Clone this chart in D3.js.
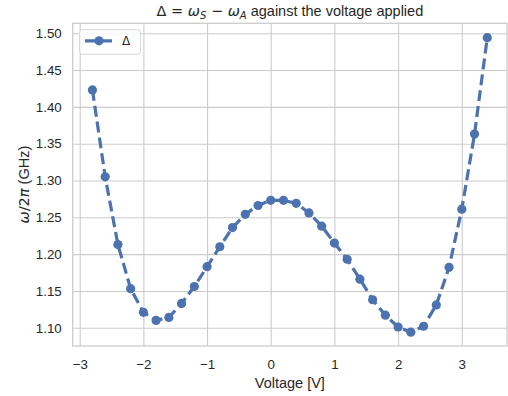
<!DOCTYPE html>
<html><head><meta charset="utf-8">
<script src="https://cdn.jsdelivr.net/npm/d3@7"></script>
<style>body{margin:0;background:#fff}svg{display:block}</style>
</head><body>
<svg id="c" width="508" height="396"></svg>
<script>
const voltage = [-2.8,-2.6,-2.4,-2.2,-2.0,-1.8,-1.6,-1.4,-1.2,-1.0,-0.8,-0.6,-0.4,-0.2,0.0,0.2,0.4,0.6,0.8,1.0,1.2,1.4,1.6,1.8,2.0,2.2,2.4,2.6,2.8,3.0,3.2,3.4];
const delta = [1.423,1.305,1.213,1.153,1.121,1.110,1.114,1.133,1.156,1.183,1.210,1.236,1.254,1.266,1.273,1.273,1.269,1.256,1.238,1.215,1.193,1.166,1.138,1.117,1.101,1.094,1.102,1.131,1.182,1.261,1.363,1.494];
const xTicks = [-3,-2,-1,0,1,2,3];
const yTicks = [1.10,1.15,1.20,1.25,1.30,1.35,1.40,1.45,1.50];

const svg = d3.select("#c");
const L=72.7, R=507, T=23.3, B=346;
const font = "'Liberation Sans', Arial, sans-serif";
const x = d3.scaleLinear().domain([-3.11,3.71]).range([L,R]);
const y = d3.scaleLinear().domain([1.0752,1.5135]).range([B,T]);
const grid = "#cccccc", txt = "#262626", col = "#4c72b0";

// grid
const xAxis = d3.axisBottom(x).tickValues(xTicks).tickSize(-(B-T)).tickPadding(14)
  .tickFormat(d => d < 0 ? "\u2212" + Math.abs(d) : d);
const gx = svg.append("g").attr("transform",`translate(0,${B})`).call(xAxis);
const yAxis = d3.axisLeft(y).tickValues(yTicks).tickSize(-(R-L)).tickPadding(11)
  .tickFormat(d3.format(".2f"));
const gy = svg.append("g").attr("transform",`translate(${L},0)`).call(yAxis);
[gx,gy].forEach(g=>{
  g.select(".domain").remove();
  g.selectAll(".tick line").attr("stroke",grid).attr("stroke-width",1.1);
  g.selectAll(".tick text").attr("fill",txt).attr("font-family",font).attr("font-size",13.3);
});
svg.append("rect").attr("x",L).attr("y",T).attr("width",R-L).attr("height",B-T)
  .attr("fill","none").attr("stroke",grid).attr("stroke-width",1.3);

// line
const line = d3.line().x((d,i)=>x(voltage[i])).y(d=>y(d));
svg.append("path").datum(delta).attr("d",line).attr("fill","none")
  .attr("stroke",col).attr("stroke-width",3.2).attr("stroke-dasharray","11,5");
svg.selectAll("circle.pt").data(delta).join("circle").attr("class","pt")
  .attr("cx",(d,i)=>x(voltage[i])).attr("cy",d=>y(d)).attr("r",4.6).attr("fill",col);

// title
const title = svg.append("text").attr("x",(L+R)/2).attr("y",16).attr("text-anchor","middle")
  .attr("fill",txt).attr("font-family",font).attr("font-size",14.5);
title.append("tspan").attr("font-family","'DejaVu Sans'").text("\u0394 = ");
title.append("tspan").attr("font-family","'DejaVu Sans'").attr("font-style","italic").text("\u03c9");
title.append("tspan").attr("font-family","'DejaVu Sans'").attr("font-style","italic").attr("font-size",10).attr("dy",2.8).text("S");
title.append("tspan").attr("font-family","'DejaVu Sans'").attr("dy",-2.8).text(" \u2212 ");
title.append("tspan").attr("font-family","'DejaVu Sans'").attr("font-style","italic").text("\u03c9");
title.append("tspan").attr("font-family","'DejaVu Sans'").attr("font-style","italic").attr("font-size",10).attr("dy",2.8).text("A");
title.append("tspan").attr("dy",-2.8).text(" against the voltage applied");

// axis labels
svg.append("text").attr("x",(L+R)/2).attr("y",388).attr("text-anchor","middle")
  .attr("fill",txt).attr("font-family",font).attr("font-size",14.5).text("Voltage [V]");
const yl = svg.append("text").attr("transform",`translate(29,${(T+B)/2}) rotate(-90)`)
  .attr("text-anchor","middle").attr("fill",txt).attr("font-family",font).attr("font-size",14.5);
yl.append("tspan").attr("font-family","'DejaVu Sans'").attr("font-style","italic").text("\u03c9");
yl.append("tspan").attr("font-family","'DejaVu Sans'").text("/2");
yl.append("tspan").attr("font-family","'DejaVu Sans'").attr("font-style","italic").text("\u03c0");
yl.append("tspan").text(" (GHz)");

// legend
const lg = svg.append("g");
lg.append("rect").attr("x",79.5).attr("y",29.7).attr("width",61).attr("height",24.6).attr("rx",3)
  .attr("fill","#fff").attr("fill-opacity",0.8).attr("stroke","#d8d8d8").attr("stroke-width",1);
lg.append("line").attr("x1",85).attr("x2",112).attr("y1",40.8).attr("y2",40.8)
  .attr("stroke",col).attr("stroke-width",3.2).attr("stroke-dasharray","11,5");
lg.append("circle").attr("cx",99).attr("cy",40.8).attr("r",4.6).attr("fill",col);
lg.append("text").attr("x",122).attr("y",45.2).attr("fill",txt).attr("font-family","'DejaVu Sans'")
  .attr("font-size",12).text("\u0394");
</script>
</body></html>
